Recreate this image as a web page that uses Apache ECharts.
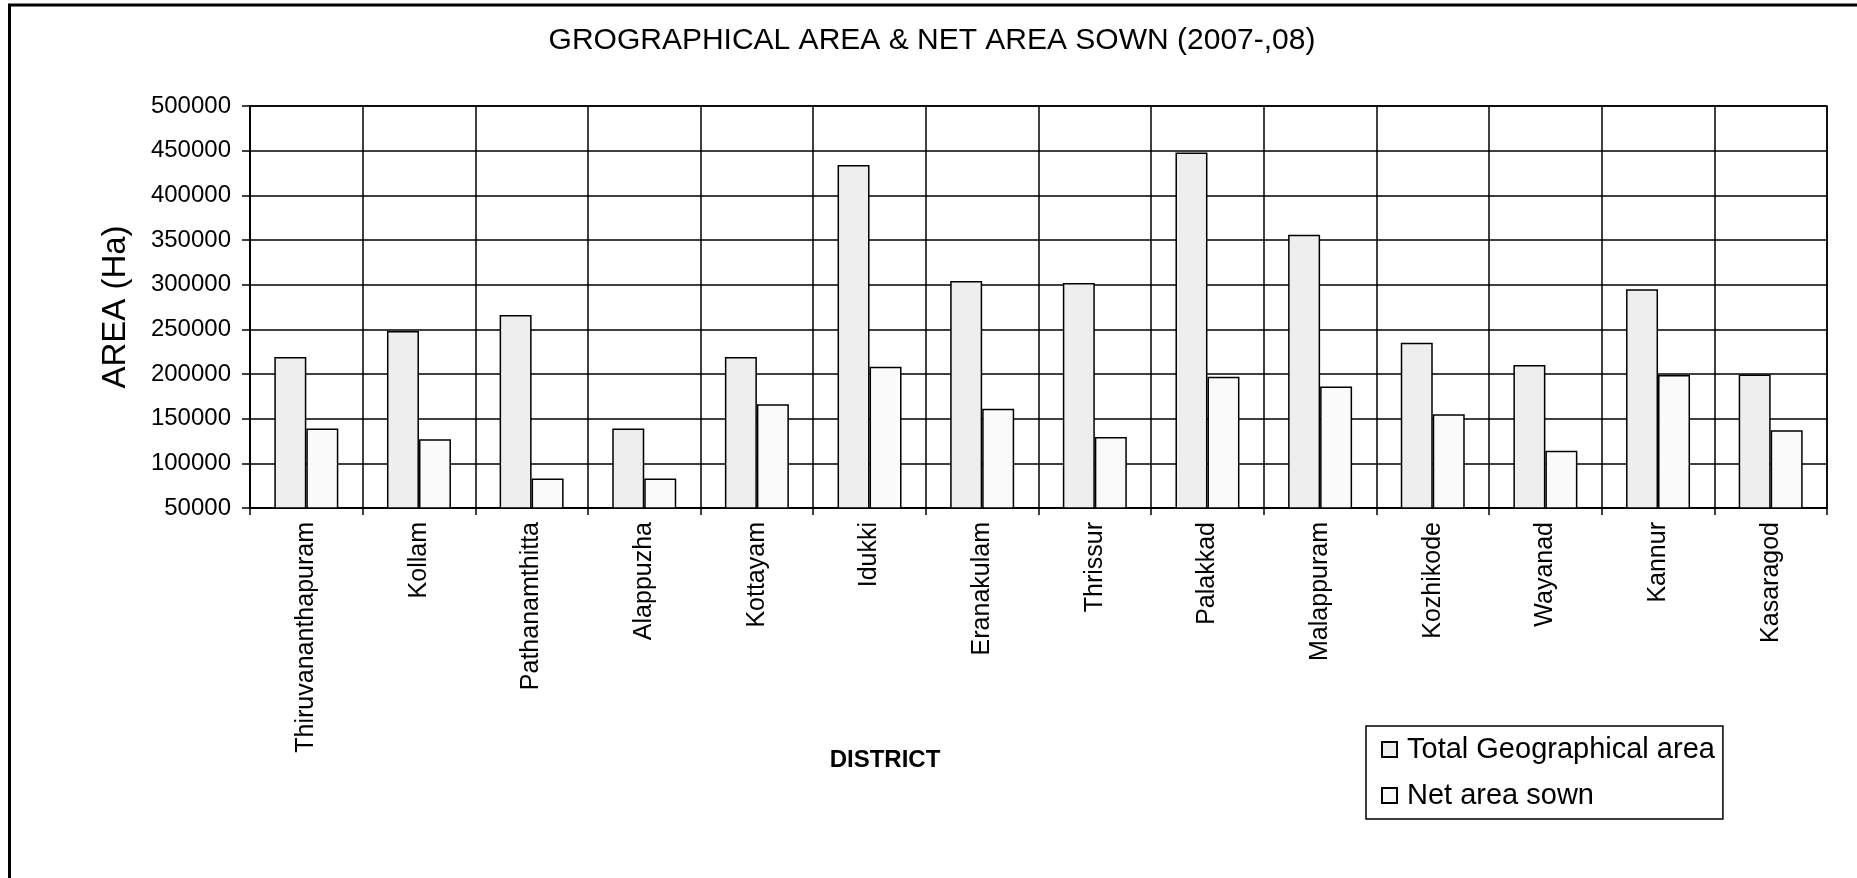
<!DOCTYPE html>
<html>
<head>
<meta charset="utf-8">
<script src="https://cdn.jsdelivr.net/npm/echarts@6/dist/echarts.min.js"></script>
<style>
html,body{margin:0;padding:0;background:#fff;}
#chart{width:1857px;height:878px;}
</style>
</head>
<body>
<div id="chart"></div>
<script>
const categories = ["Thiruvananthapuram","Kollam","Pathanamthitta","Alappuzha","Kottayam","Idukki","Eranakulam","Thrissur","Palakkad","Malappuram","Kozhikode","Wayanad","Kannur","Kasaragod"];
const totalArea = [219000, 248000, 266000, 139000, 219000, 434000, 304000, 302000, 448000, 356000, 235000, 210000, 295000, 199500];
const netSown = [139000, 127000, 83000, 83000, 166000, 208000, 161000, 129500, 197000, 186000, 155000, 114000, 199000, 137000];
const seriesNames = ["Total Geographical area", "Net area sown"];
const titleText = "GROGRAPHICAL AREA & NET AREA SOWN (2007-,08)";
const xName = "DISTRICT";
const yName = "AREA (Ha)";

const FONT = "'Liberation Sans', Arial, sans-serif";
const chart = echarts.init(document.getElementById('chart'), null, {renderer:'canvas'});
chart.setOption({
  animation: false,
  backgroundColor: '#ffffff',
  title: [
    {text: titleText, left: 932, top: 26, padding: 0, textAlign: 'center',
     textStyle: {fontFamily: FONT, fontSize: 30, fontWeight: 'normal', color: '#000'}},
    {text: xName, left: 885, top: 748, padding: 0, textAlign: 'center',
     textStyle: {fontFamily: FONT, fontSize: 24, fontWeight: 'bold', color: '#000'}}
  ],
  graphic: [
    {type: 'line', shape: {x1: 9.5, y1: 5, x2: 9.5, y2: 878}, style: {stroke: '#000', lineWidth: 3}},
    {type: 'line', shape: {x1: 8, y1: 5, x2: 1857, y2: 5}, style: {stroke: '#000', lineWidth: 3}}
  ],
  legend: {
    orient: 'vertical',
    left: 1366, top: 726,
    padding: [9, 8, 9, 15],
    itemGap: 17,
    itemWidth: 15, itemHeight: 15,
    icon: 'rect',
    backgroundColor: '#fff',
    borderColor: '#000', borderWidth: 1.5, borderRadius: 0,
    textStyle: {fontFamily: FONT, fontSize: 29, color: '#000', padding: [0,0,0,5]},
    data: seriesNames
  },
  grid: {left: 250, right: 30, top: 106, bottom: 370, show: true, borderColor: '#000', borderWidth: 1.5, backgroundColor: 'transparent'},
  xAxis: {
    type: 'category',
    data: categories,
    axisLine: {lineStyle: {color: '#000', width: 1.5}},
    axisTick: {show: true, length: 7, lineStyle: {color: '#000', width: 1.5}},
    splitLine: {show: true, lineStyle: {color: '#000', width: 1.5}},
    axisLabel: {rotate: 90, margin: 14, fontFamily: FONT, fontSize: 25, color: '#000', interval: 0}
  },
  yAxis: {
    type: 'value',
    min: 50000, max: 500000, interval: 50000,
    name: yName,
    nameLocation: 'middle',
    nameGap: 118,
    nameTextStyle: {fontFamily: FONT, fontSize: 33, color: '#000'},
    axisLine: {show: true, lineStyle: {color: '#000', width: 1.5}},
    axisTick: {show: true, length: 8, lineStyle: {color: '#000', width: 1.5}},
    splitLine: {show: true, lineStyle: {color: '#000', width: 1.5}},
    axisLabel: {margin: 19, fontFamily: FONT, fontSize: 24, color: '#000', formatter: function (v) { return String(v); }}
  },
  series: [
    {name: seriesNames[0], type: 'bar', data: totalArea, barWidth: '28.4%', barGap: '0%',
     itemStyle: {color: '#eeeeee', borderColor: '#000', borderWidth: 1.5}},
    {name: seriesNames[1], type: 'bar', data: netSown, barWidth: '28.4%', barGap: '0%',
     itemStyle: {color: '#fafafa', borderColor: '#000', borderWidth: 1.5}}
  ]
});
</script>
</body>
</html>
